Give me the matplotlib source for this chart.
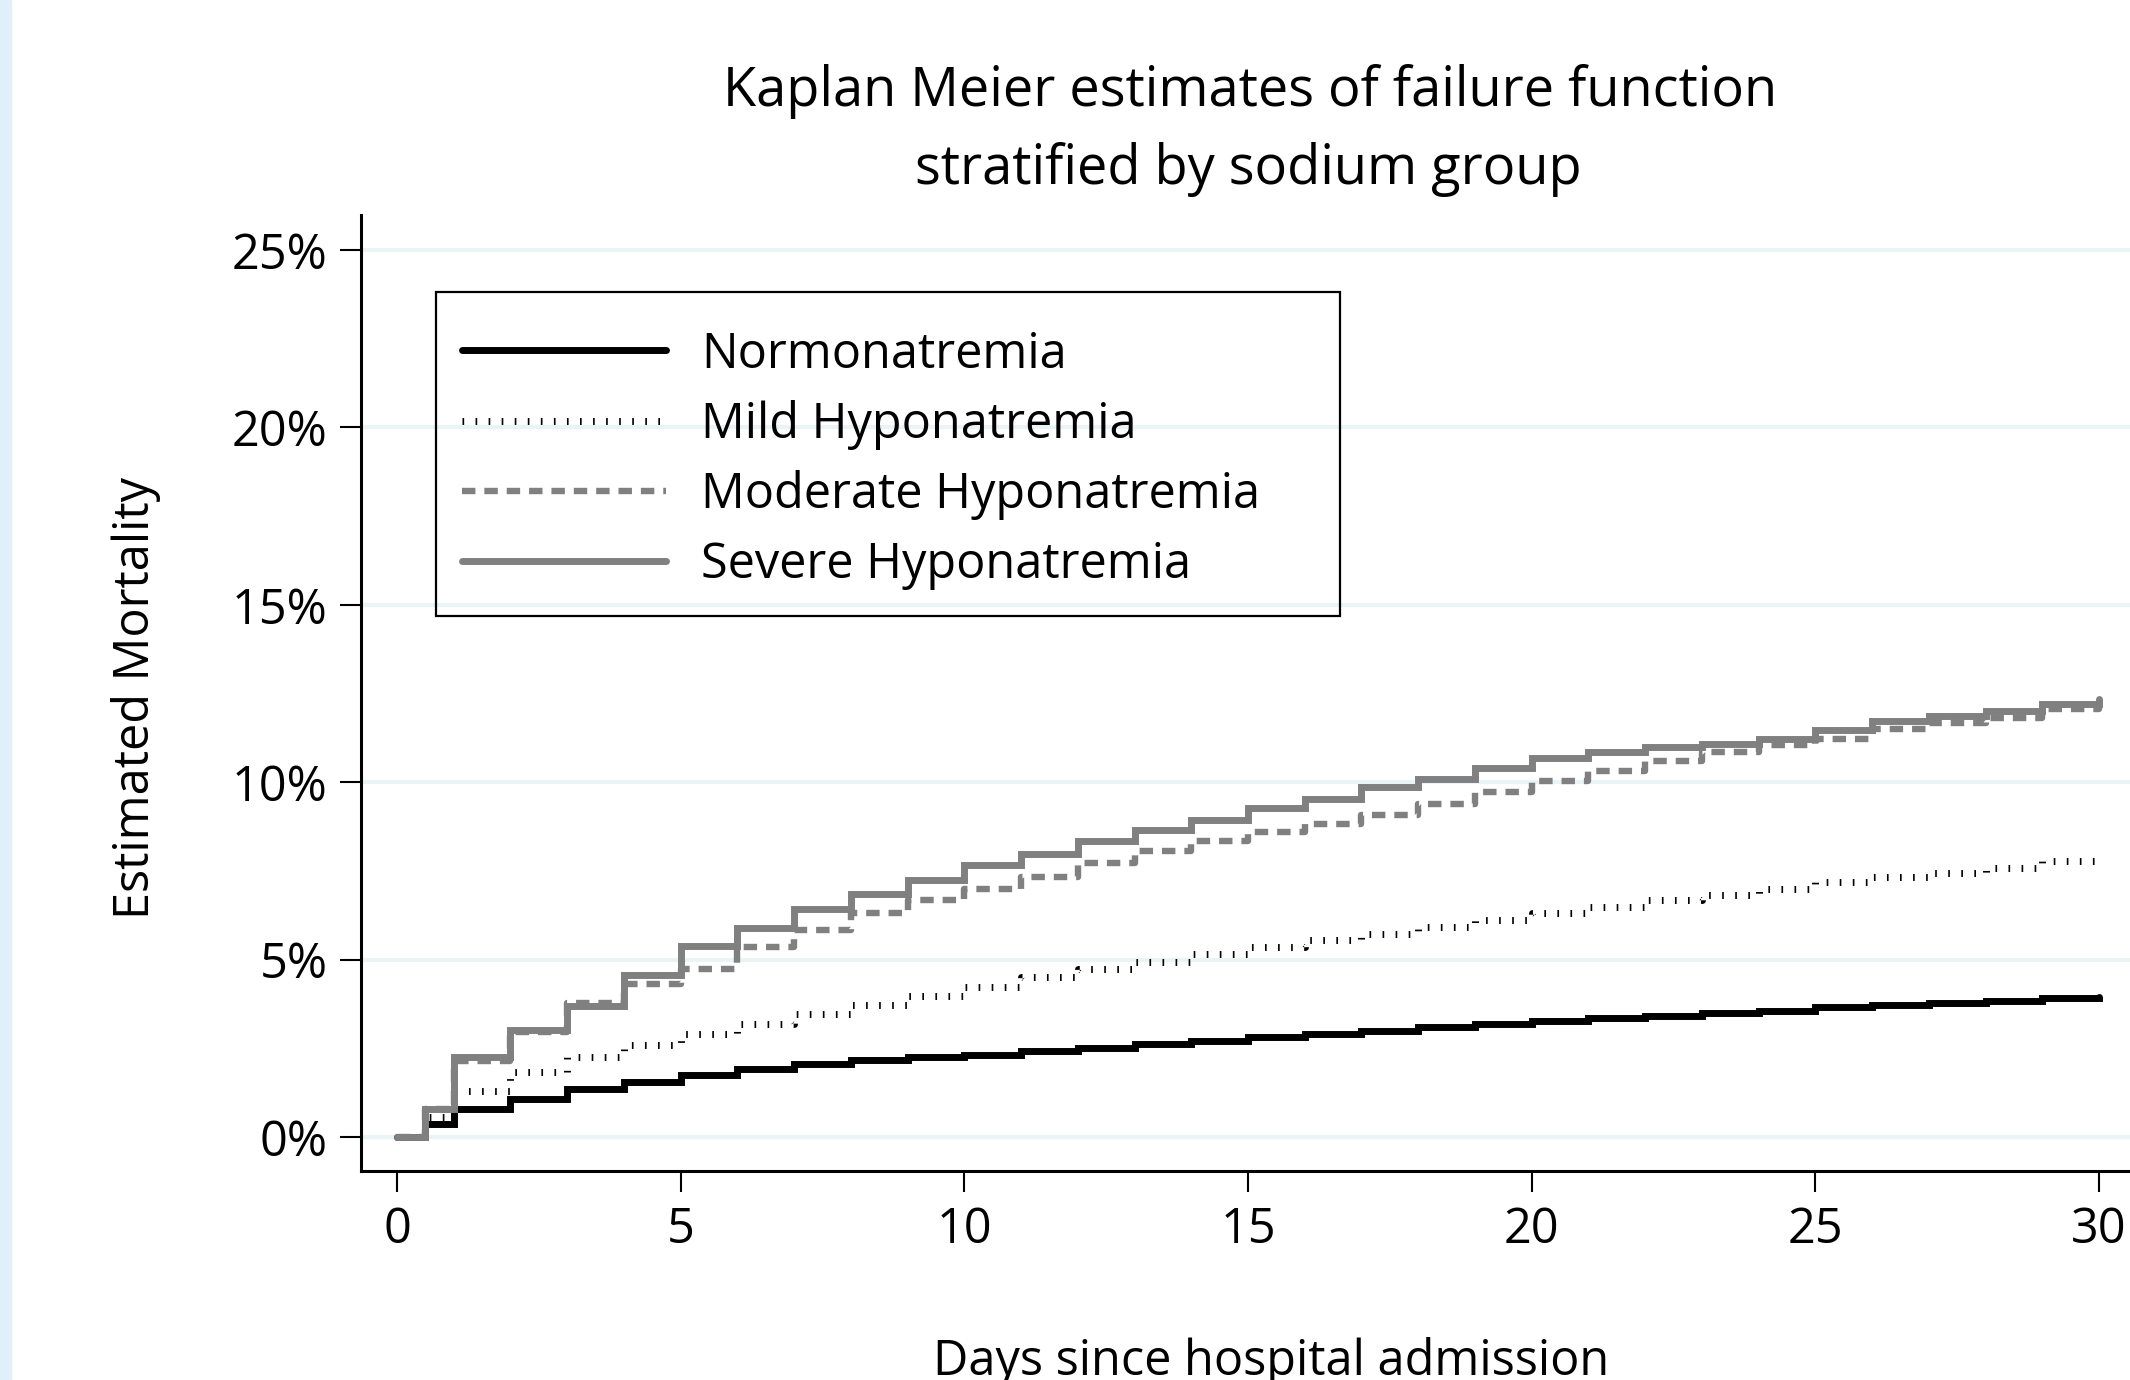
import numpy as np
import matplotlib
matplotlib.use('Agg')
import matplotlib.pyplot as plt
from matplotlib.patches import Rectangle

plt.rcParams['font.family'] = ['Open Sans', 'DejaVu Sans']

# days since admission (step changes), then estimated mortality in %
days = [0, 0.5] + list(range(1, 31))
normo = [0, 0.36, 0.78, 1.08, 1.35, 1.55, 1.74, 1.91, 2.07, 2.16, 2.24, 2.32, 2.41, 2.52, 2.62, 2.71,
         2.81, 2.90, 2.99, 3.09, 3.18, 3.28, 3.35, 3.42, 3.48, 3.56, 3.65, 3.73, 3.78, 3.84, 3.92, 3.94]
mild = [0, 0.55, 1.30, 1.84, 2.26, 2.60, 2.90, 3.18, 3.47, 3.73, 3.98, 4.24, 4.52, 4.73, 4.92, 5.16,
        5.35, 5.54, 5.71, 5.91, 6.12, 6.32, 6.48, 6.67, 6.83, 7.00, 7.18, 7.33, 7.44, 7.58, 7.77, 7.80]
moderate = [0, 0.80, 2.15, 2.95, 3.79, 4.31, 4.74, 5.35, 5.82, 6.32, 6.67, 7.00, 7.34, 7.73, 8.06, 8.33,
            8.60, 8.83, 9.07, 9.38, 9.73, 10.03, 10.32, 10.59, 10.86, 11.05, 11.23, 11.49, 11.67, 11.81, 12.05, 12.12]
severe = [0, 0.80, 2.24, 3.02, 3.70, 4.57, 5.38, 5.89, 6.43, 6.85, 7.23, 7.66, 7.98, 8.33, 8.64, 8.93,
          9.26, 9.54, 9.87, 10.10, 10.39, 10.67, 10.84, 11.00, 11.09, 11.23, 11.47, 11.73, 11.87, 12.00, 12.21, 12.35]

labels = ['Normonatremia', 'Mild Hyponatremia', 'Moderate Hyponatremia', 'Severe Hyponatremia']
yticks = [0, 5, 10, 15, 20, 25]
xticks = [0, 5, 10, 15, 20, 25, 30]

W, H = 2130, 1380
fig = plt.figure(figsize=(W / 100, H / 100), dpi=100)
fig.patches.append(Rectangle((0, 0), 11 / W, 1, transform=fig.transFigure, color='#dff0fa', zorder=0))

# axes runs a bit past the right edge (cropped like the original)
ax = fig.add_axes([361 / W, 209 / H, 1774 / W, 956 / H])
ax.set_xlim(-0.635, 30.635)
ax.set_ylim(-0.96, 25.99)

for t in yticks:
    ax.axhline(t, color='#eaf3f6', lw=3, zorder=0)

fs = 35
ax.step(days, normo, where='post', color='black', lw=5, solid_capstyle='round',
        solid_joinstyle='miter', label=labels[0], zorder=3)
ax.step(days, mild, where='post', color='black', lw=5, linestyle=(0, (0.24, 1.64)),
        label=labels[1], zorder=3)
ax.step(days, moderate, where='post', color='#808080', lw=4.6, linestyle=(0, (2.1, 1.4)),
        label=labels[2], zorder=3)
ax.step(days, severe, where='post', color='#808080', lw=5, solid_capstyle='round',
        solid_joinstyle='miter', label=labels[3], zorder=3)

ax.spines['top'].set_visible(False)
ax.spines['right'].set_visible(False)
for s in ['left', 'bottom']:
    ax.spines[s].set_linewidth(2.2)

ax.set_yticks(yticks)
ax.set_yticklabels([f'{t}%' for t in yticks])
ax.set_xticks(xticks)
ax.tick_params(axis='both', direction='out', length=15, width=1.5, labelsize=fs)
ax.tick_params(axis='y', pad=9)
ax.tick_params(axis='x', pad=10)

leg = ax.legend(loc='upper left', bbox_to_anchor=(462 / W, 1 - 330 / H), bbox_transform=fig.transFigure,
                frameon=False, fontsize=fs, handlelength=4.2, handletextpad=0.72, labelspacing=0.42,
                borderpad=0, borderaxespad=0)
fig.patches.append(Rectangle((436 / W, 1 - 616 / H), (1340 - 436) / W, (616 - 292) / H,
                             transform=fig.transFigure, fill=False, edgecolor='black', lw=1.6, zorder=5))

tfs = 39
fig.text(1250 / W, 1 - 106 / H, 'Kaplan Meier estimates of failure function', ha='center', va='baseline', fontsize=tfs)
fig.text(1248 / W, 1 - 184 / H, 'stratified by sodium group', ha='center', va='baseline', fontsize=tfs)
fig.text(136 / W, 1 - 698 / H, 'Estimated Mortality', rotation=90, ha='center', va='center', fontsize=fs)
fig.text(1271 / W, 5 / H, 'Days since hospital admission', ha='center', va='baseline', fontsize=fs)

fig.savefig('out.png', dpi=100)
